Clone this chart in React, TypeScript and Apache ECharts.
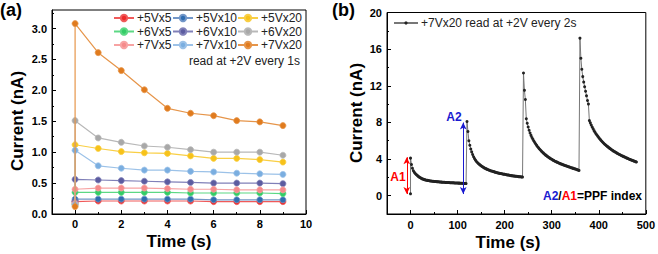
import React, { useEffect, useRef } from "react";
import * as echarts from "echarts";

// ---------- Panel (a) data ----------
const timesA = [0, 1, 2, 3, 4, 5, 6, 7, 8, 9];
const seriesNamesA = ["+5Vx5", "+5Vx10", "+5Vx20", "+6Vx5", "+6Vx10", "+6Vx20", "+7Vx5", "+7Vx10", "+7Vx20"];
const preValuesA = [0.2, 0.2, 0.17, 0.16, 0.2, 0.15, 0.17, 0.15, 0.12];
const v5x5 = [0.21, 0.21, 0.21, 0.21, 0.21, 0.21, 0.2, 0.2, 0.2, 0.2];
const v5x10 = [0.24, 0.24, 0.24, 0.24, 0.24, 0.24, 0.23, 0.23, 0.23, 0.23];
const v5x20 = [1.12, 1.06, 1.01, 0.99, 0.98, 0.94, 0.9, 0.9, 0.88, 0.84];
const v6x5 = [0.35, 0.35, 0.35, 0.35, 0.35, 0.34, 0.34, 0.34, 0.34, 0.33];
const v6x10 = [0.56, 0.55, 0.54, 0.53, 0.52, 0.51, 0.5, 0.5, 0.5, 0.49];
const v6x20 = [1.51, 1.23, 1.16, 1.1, 1.08, 1.04, 1.0, 1.0, 1.0, 0.95];
const v7x5 = [0.4, 0.42, 0.42, 0.42, 0.41, 0.4, 0.4, 0.39, 0.39, 0.39];
const v7x10 = [1.03, 0.78, 0.74, 0.71, 0.71, 0.69, 0.68, 0.66, 0.65, 0.64];
const v7x20 = [3.08, 2.61, 2.32, 2.01, 1.71, 1.63, 1.59, 1.51, 1.49, 1.43];
const valuesA = [v5x5, v5x10, v5x20, v6x5, v6x10, v6x20, v7x5, v7x10, v7x20];
const colorsA = ["#ee2a2a", "#2f6db0", "#f7c21a", "#33cc66", "#5c5ca0", "#a8a8a8", "#f58a8a", "#7aaee0", "#e07b1e"];
const lineColorsA = ["#f05a5a", "#7397c8", "#f9cf45", "#5cd884", "#8080b8", "#b8b8b8", "#f7a3a3", "#9cc2e8", "#e6954a"];
const xTicksA = [0, 2, 4, 6, 8, 10];
const xMinorA = [1, 3, 5, 7, 9];
const yTicksA = [0, 0.5, 1.0, 1.5, 2.0, 2.5, 3.0];
const yMinorA = [0.25, 0.75, 1.25, 1.75, 2.25, 2.75, 3.25];

// ---------- Panel (b) data (read every 2 s) ----------
const nameB = "+7Vx20 read at +2V every 2s";
const preB = [0, 0.2];
const seg1Start = 0;
const seg1 = [4.1, 3.4, 3.0, 2.72, 2.55, 2.42, 2.32, 2.22, 2.13, 2.05, 1.98, 1.92, 1.86, 1.82, 1.78, 1.75, 1.72, 1.69, 1.67, 1.65, 1.63, 1.61, 1.6, 1.58, 1.57, 1.56, 1.55, 1.54, 1.53, 1.52, 1.51, 1.5, 1.49, 1.48, 1.47, 1.47, 1.46, 1.45, 1.45, 1.44, 1.43, 1.43, 1.42, 1.42, 1.41, 1.4, 1.4, 1.39, 1.39, 1.38, 1.38, 1.37, 1.37, 1.36, 1.36, 1.35, 1.34, 1.34, 1.33, 1.32];
const seg2Start = 120;
const seg2 = [8.1, 7.0, 6.0, 5.5, 5.1, 4.78, 4.5, 4.25, 4.05, 3.88, 3.74, 3.62, 3.51, 3.42, 3.34, 3.26, 3.19, 3.12, 3.06, 3.0, 2.95, 2.9, 2.85, 2.81, 2.77, 2.73, 2.69, 2.66, 2.63, 2.6, 2.57, 2.54, 2.51, 2.48, 2.46, 2.43, 2.41, 2.39, 2.37, 2.35, 2.33, 2.31, 2.29, 2.27, 2.25, 2.23, 2.21, 2.19, 2.18, 2.16, 2.15, 2.13, 2.12, 2.11, 2.09, 2.08, 2.07, 2.06, 2.05, 2.03];
const seg3Start = 240;
const seg3 = [13.4, 11.5, 10.5, 8.4, 7.9, 7.5, 7.15, 6.85, 6.58, 6.35, 6.15, 5.97, 5.8, 5.64, 5.49, 5.35, 5.22, 5.1, 4.98, 4.87, 4.77, 4.67, 4.57, 4.48, 4.4, 4.32, 4.24, 4.17, 4.1, 4.03, 3.97, 3.91, 3.85, 3.79, 3.74, 3.69, 3.64, 3.59, 3.54, 3.5, 3.46, 3.42, 3.38, 3.34, 3.3, 3.26, 3.23, 3.19, 3.16, 3.12, 3.08, 3.04, 3.01, 2.98, 2.95, 2.92, 2.88, 2.84, 2.8, 2.76];
const seg4Start = 360;
const seg4 = [17.2, 15.0, 13.8, 13.0, 12.4, 11.9, 11.4, 10.9, 10.4, 10.0, 8.2, 7.95, 7.72, 7.5, 7.3, 7.1, 6.93, 6.77, 6.62, 6.48, 6.34, 6.21, 6.09, 5.97, 5.86, 5.75, 5.65, 5.56, 5.47, 5.38, 5.3, 5.22, 5.14, 5.06, 4.99, 4.92, 4.85, 4.79, 4.73, 4.67, 4.61, 4.55, 4.49, 4.44, 4.39, 4.34, 4.29, 4.24, 4.19, 4.14, 4.1, 4.05, 4.01, 3.96, 3.92, 3.88, 3.84, 3.8, 3.76, 3.72, 3.68];
const sampleStepB = 2;
const xTicksB = [0, 100, 200, 300, 400, 500];
const xMinorB = [50, 150, 250, 350, 450];
const yTicksB = [0, 4, 8, 12, 16, 20];
const yMinorB = [2, 6, 10, 14, 18];
// annotation arrows (data coords)
const arrowA1 = { x: -8, from: 0.18, to: 4.2 };
const arrowA2 = { x: 112, from: 0.18, to: 7.98 };

const FONT = "'Liberation Sans', Arial, Helvetica, sans-serif";

function buildB(): number[][] {
  const out: number[][] = [preB];
  const segs: [number, number[]][] = [
    [seg1Start, seg1],
    [seg2Start, seg2],
    [seg3Start, seg3],
    [seg4Start, seg4],
  ];
  segs.forEach(([s, arr]) => arr.forEach((v, i) => out.push([s + i * sampleStepB, v])));
  return out;
}

export default function App() {
  const ref = useRef<HTMLDivElement>(null);
  useEffect(() => {
    if (!ref.current) return;
    const chart = echarts.init(ref.current, null, { renderer: "svg" });

    const tickLbl = { color: "#000", fontWeight: "bold" as const, fontSize: 11, fontFamily: FONT };
    const axLine = { show: true, onZero: false, lineStyle: { color: "#000", width: 1 } };
    const noLine = { show: false, onZero: false };

    const seriesA = seriesNamesA.map((name, k) => ({
      name,
      type: "line",
      xAxisIndex: 0,
      yAxisIndex: 0,
      symbol: "circle",
      symbolSize: 6,
      showSymbol: true,
      itemStyle: { color: colorsA[k], borderColor: lineColorsA[k], borderWidth: 0.8 },
      lineStyle: { color: lineColorsA[k], width: 1.2 },
      data: [[timesA[0], preValuesA[k]], ...timesA.map((t, i) => [t, valuesA[k][i]])],
      z: 2 + k,
    }));

    const legendCommon = {
      orient: "vertical" as const,
      itemWidth: 20,
      itemHeight: 8,
      itemGap: 1.5,
      padding: 0,
      textStyle: { fontSize: 12, color: "#222", fontFamily: FONT, padding: [0, 0, 0, -2] },
    };

    const option: any = {
      animation: false,
      grid: [
        { left: 52, top: 10, width: 254, height: 204, show: true, borderColor: "#000", borderWidth: 1, backgroundColor: "transparent" },
        { left: 387, top: 12.5, width: 260, height: 201.5, show: true, borderColor: "#000", borderWidth: 1, backgroundColor: "transparent" },
      ],
      xAxis: [
        {
          gridIndex: 0, type: "value", min: -1, max: 10,
          axisLine: axLine, splitLine: { show: false },
          axisTick: { show: true, inside: true, length: 4, customValues: xTicksA, lineStyle: { color: "#000" } },
          axisLabel: { ...tickLbl, margin: 4, customValues: xTicksA },
        },
        {
          gridIndex: 0, type: "value", min: -1, max: 10, position: "bottom",
          axisLine: noLine, splitLine: { show: false }, axisLabel: { show: false },
          axisTick: { show: true, inside: true, length: 2, customValues: xMinorA, lineStyle: { color: "#000" } },
        },
        {
          gridIndex: 1, type: "value", min: -50, max: 500,
          axisLine: axLine, splitLine: { show: false },
          axisTick: { show: true, inside: true, length: 4, customValues: xTicksB, lineStyle: { color: "#000" } },
          axisLabel: { ...tickLbl, margin: 5, customValues: xTicksB },
        },
        {
          gridIndex: 1, type: "value", min: -50, max: 500, position: "bottom",
          axisLine: noLine, splitLine: { show: false }, axisLabel: { show: false },
          axisTick: { show: true, inside: true, length: 2, customValues: xMinorB, lineStyle: { color: "#000" } },
        },
      ],
      yAxis: [
        {
          gridIndex: 0, type: "value", min: 0, max: 3.3,
          axisLine: axLine, splitLine: { show: false },
          axisTick: { show: true, inside: true, length: 4, customValues: yTicksA, lineStyle: { color: "#000" } },
          axisLabel: { ...tickLbl, margin: 5, customValues: yTicksA, formatter: (v: number) => v.toFixed(1) },
        },
        {
          gridIndex: 0, type: "value", min: 0, max: 3.3, position: "left",
          axisLine: noLine, splitLine: { show: false }, axisLabel: { show: false },
          axisTick: { show: true, inside: true, length: 2, customValues: yMinorA, lineStyle: { color: "#000" } },
        },
        {
          gridIndex: 1, type: "value", min: -2, max: 20,
          axisLine: axLine, splitLine: { show: false },
          axisTick: { show: true, inside: true, length: 4, customValues: yTicksB, lineStyle: { color: "#000" } },
          axisLabel: { ...tickLbl, margin: 5, customValues: yTicksB },
        },
        {
          gridIndex: 1, type: "value", min: -2, max: 20, position: "left",
          axisLine: noLine, splitLine: { show: false }, axisLabel: { show: false },
          axisTick: { show: true, inside: true, length: 2, customValues: yMinorB, lineStyle: { color: "#000" } },
        },
      ],
      legend: [
        { ...legendCommon, left: 113, top: 12, data: [seriesNamesA[0], seriesNamesA[3], seriesNamesA[6]] },
        { ...legendCommon, left: 172, top: 12, data: [seriesNamesA[1], seriesNamesA[4], seriesNamesA[7]] },
        { ...legendCommon, left: 237, top: 12, data: [seriesNamesA[2], seriesNamesA[5], seriesNamesA[8]] },
        { ...legendCommon, left: 393, top: 17, itemWidth: 24, itemHeight: 4, data: [nameB] },
      ],
      series: [
        ...seriesA,
        {
          name: nameB,
          type: "line",
          xAxisIndex: 2,
          yAxisIndex: 2,
          symbol: "circle",
          symbolSize: 3,
          itemStyle: { color: "#222" },
          lineStyle: { color: "#777", width: 1 },
          data: buildB(),
          markLine: {
            silent: true,
            animation: false,
            symbol: ["arrow", "arrow"],
            symbolSize: [5, 7],
            label: { show: false },
            lineStyle: { type: "solid", width: 1 },
            data: [
              [
                { coord: [arrowA1.x, arrowA1.from], lineStyle: { color: "#ff0000", type: "solid", width: 1 }, itemStyle: { color: "#ff0000" } },
                { coord: [arrowA1.x, arrowA1.to] },
              ],
              [
                { coord: [arrowA2.x, arrowA2.from], lineStyle: { color: "#1a1ad0", type: "solid", width: 1 }, itemStyle: { color: "#1a1ad0" } },
                { coord: [arrowA2.x, arrowA2.to] },
              ],
            ],
          },
        },
      ],
      graphic: [
        { type: "text", left: 0, top: 1, style: { text: "(a)", fontSize: 18, fontWeight: "bold", fontFamily: FONT, fill: "#000" } },
        { type: "text", left: 332, top: 1, style: { text: "(b)", fontSize: 18, fontWeight: "bold", fontFamily: FONT, fill: "#000" } },
        { type: "text", x: 17.5, y: 121, rotation: Math.PI / 2, style: { text: "Current (nA)", fontSize: 17, fontWeight: "bold", fontFamily: FONT, fill: "#000", align: "center", verticalAlign: "middle" } },
        { type: "text", x: 356.5, y: 113, rotation: Math.PI / 2, style: { text: "Current (nA)", fontSize: 17, fontWeight: "bold", fontFamily: FONT, fill: "#000", align: "center", verticalAlign: "middle" } },
        { type: "text", x: 179, y: 241, style: { text: "Time (s)", fontSize: 17, fontWeight: "bold", fontFamily: FONT, fill: "#000", align: "center", verticalAlign: "middle" } },
        { type: "text", x: 508, y: 242, style: { text: "Time (s)", fontSize: 17, fontWeight: "bold", fontFamily: FONT, fill: "#000", align: "center", verticalAlign: "middle" } },
        { type: "text", x: 300, y: 61, style: { text: "read at +2V every 1s", fontSize: 12, fontFamily: FONT, fill: "#222", align: "right", verticalAlign: "middle" } },
        { type: "text", x: 398, y: 177, style: { text: "A1", fontSize: 12, fontWeight: "bold", fontFamily: FONT, fill: "#ff0000", align: "center", verticalAlign: "middle" } },
        { type: "text", x: 454, y: 117, style: { text: "A2", fontSize: 12, fontWeight: "bold", fontFamily: FONT, fill: "#1a1ad0", align: "center", verticalAlign: "middle" } },
        {
          type: "text", x: 543, y: 196,
          style: {
            text: "{b|A2}{k|/}{r|A1}{k|=PPF index}",
            fontSize: 12, fontWeight: "bold", fontFamily: FONT, verticalAlign: "middle",
            rich: {
              b: { fill: "#1a1ad0", fontSize: 12, fontWeight: "bold", fontFamily: FONT },
              r: { fill: "#ff0000", fontSize: 12, fontWeight: "bold", fontFamily: FONT },
              k: { fill: "#000", fontSize: 12, fontWeight: "bold", fontFamily: FONT },
            },
          },
        },
      ],
    };
    chart.setOption(option);
    return () => chart.dispose();
  }, []);
  return <div ref={ref} style={{ position: "absolute", left: 0, top: 0, width: 658, height: 254 }} />;
}
